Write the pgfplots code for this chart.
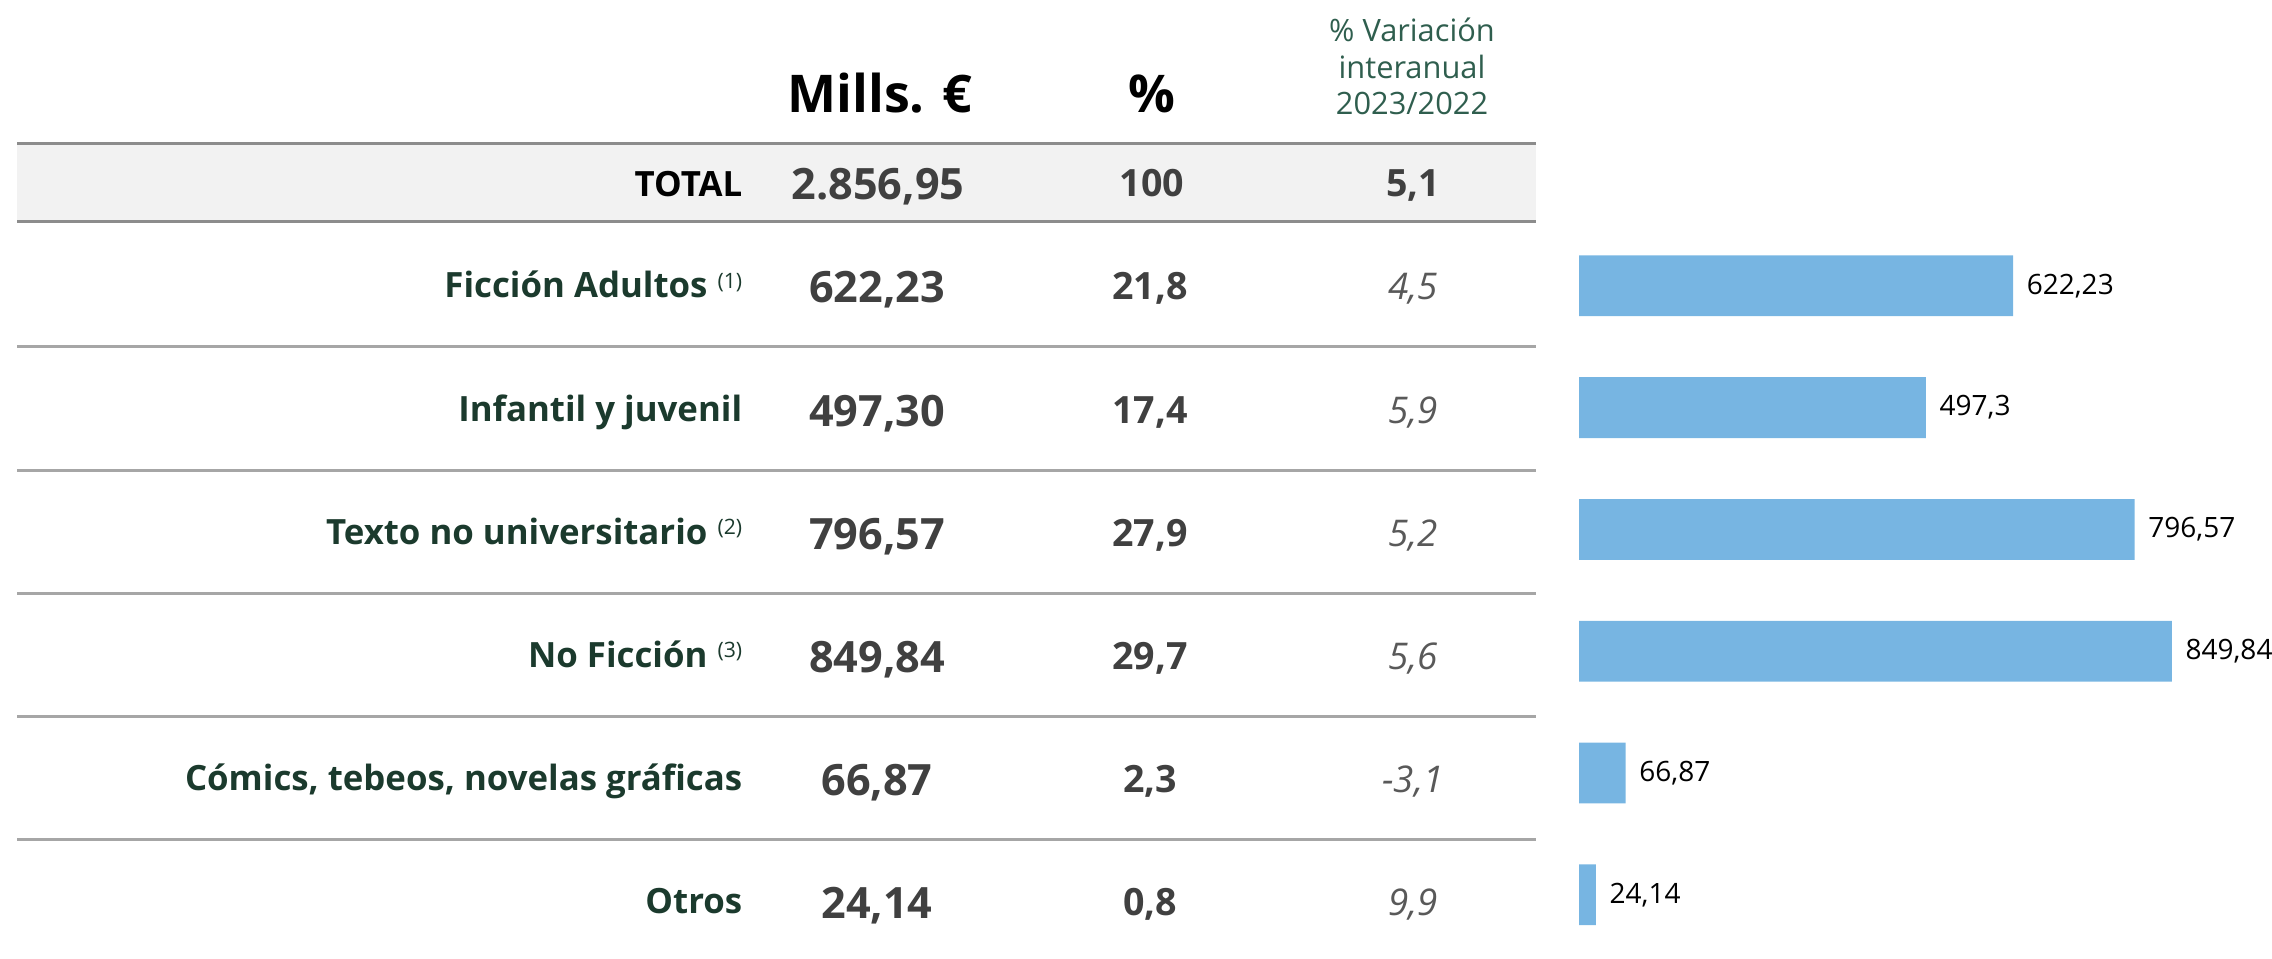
\documentclass[border=0pt]{standalone}
\usepackage{pgfplots}
\pgfplotsset{compat=1.18}
\usepackage{fontspec}
\setmainfont{Open Sans}
\definecolor{labgreen}{HTML}{1B3A2D}
\definecolor{hdrgreen}{HTML}{2F5E4E}
\definecolor{valgray}{HTML}{404040}
\definecolor{vargray}{HTML}{595959}
\definecolor{rulegray}{HTML}{A6A6A6}
\definecolor{ruledark}{HTML}{8C8C8C}
\definecolor{totbg}{HTML}{F2F2F2}
\definecolor{barblue}{HTML}{77B5E2}
\newcommand\supn[1]{\hspace{2.5pt}\raisebox{2.4pt}{\fontsize{5.3}{6}\mdseries\selectfont(#1)}}
\newcommand\flab{\fontsize{8.7}{10}\selectfont\bfseries}
\newcommand\fbig{\fontsize{10.8}{12}\selectfont\bfseries}
\newcommand\fmid{\fontsize{9.4}{11}\selectfont\bfseries}
\newcommand\fvar{\fontsize{9.2}{11}\selectfont\itshape}
\begin{document}
\begin{tikzpicture}[x=0.25pt,y=-0.25pt]
\path[use as bounding box] (0,0) rectangle (2272,959);
% total row background and rules
\fill[totbg] (17,143) rectangle (1536,222);
\draw[ruledark, line width=0.75pt] (17,143.5) -- (1536,143.5);
\draw[ruledark, line width=0.75pt] (17,222) -- (1536,222);
\foreach \y in {347,470.2,593.4,716.6,839.8}
  \draw[rulegray, line width=0.75pt] (17,\y) -- (1536,\y);
% headers
\node[anchor=base, inner sep=0pt, font=\fontsize{13}{15}\selectfont\bfseries] at (880,113) {Mills. €};
\node[anchor=base, inner sep=0pt, font=\fontsize{13}{15}\selectfont\bfseries] at (1152,113) {\%};
\node[anchor=base, inner sep=0pt, text=hdrgreen, font=\fontsize{7.7}{9}\selectfont] at (1412,42) {\% Variación};
\node[anchor=base, inner sep=0pt, text=hdrgreen, font=\fontsize{7.7}{9}\selectfont] at (1412,79) {interanual};
\node[anchor=base, inner sep=0pt, text=hdrgreen, font=\fontsize{7.7}{9}\selectfont] at (1412,115) {2023/2022};
% total row
\node[anchor=base east, inner sep=0pt, font=\flab] at (743,196.5) {TOTAL};
\node[anchor=base, inner sep=0pt, font=\fbig, text=valgray] at (878,199.5) {2.856,95};
\node[anchor=base, inner sep=0pt, font=\fmid, text=valgray] at (1152,196.5) {100};
\node[anchor=base, inner sep=0pt, font=\fmid, text=valgray] at (1413,196.5) {5,1};
% category rows
\foreach \c/\lab/\val/\pct/\var in {
  287/{Ficción Adultos\supn{1}}/{622,23}/{21,8}/{4,5},
  410.2/{Infantil y juvenil}/{497,30}/{17,4}/{5,9},
  533.4/{Texto no universitario\supn{2}}/{796,57}/{27,9}/{5,2},
  656.6/{No Ficción\supn{3}}/{849,84}/{29,7}/{5,6},
  779.8/{Cómics, tebeos, novelas gráficas}/{66,87}/{2,3}/{-3,1},
  903/{Otros}/{24,14}/{0,8}/{9,9}}{
  \node[anchor=base east, inner sep=0pt, font=\flab, text=labgreen] at (743,\c+11) {\lab};
  \node[anchor=base, inner sep=0pt, font=\fbig, text=valgray] at (877,\c+16) {\val};
  \node[anchor=base, inner sep=0pt, font=\fmid, text=valgray] at (1150,\c+13) {\pct};
  \node[anchor=base, inner sep=0pt, font=\fvar, text=vargray] at (1413,\c+13) {\var};
}
% bars
\begin{axis}[
  at={(394.75pt,-238.925pt)}, anchor=south west,
  scale only axis, width=156.94pt, height=182.7pt,
  xmin=0, xmax=900, ymin=0.5, ymax=6.5, y dir=reverse,
  hide axis, clip=false,
  xbar, bar width=15.2pt,
  point meta=x,
  nodes near coords={\pgfmathprintnumber[use comma, fixed, precision=2, assume math mode=true]{\pgfplotspointmeta}},
  every node near coord/.append style={anchor=west, inner sep=0pt, xshift=3.25pt, font=\fontsize{7}{8}\selectfont, text=black},
]
\addplot[fill=barblue, draw=none] coordinates {(622.23,1) (497.3,2) (796.57,3) (849.84,4) (66.87,5) (24.14,6)};
\end{axis}
\end{tikzpicture}
\end{document}
